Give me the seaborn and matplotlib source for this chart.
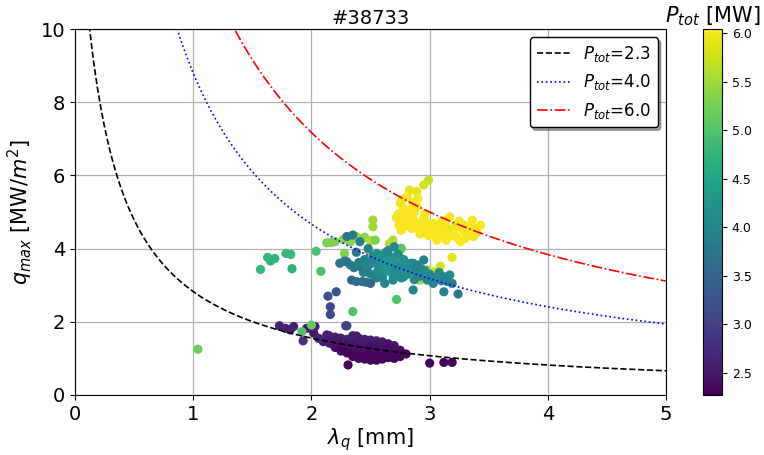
import numpy as np
import pandas as pd
import matplotlib
matplotlib.use("Agg")
import matplotlib.pyplot as plt
import seaborn as sns
from matplotlib.colors import Normalize
from matplotlib.cm import ScalarMappable

# ---------------- data ----------------
# green / light-green scattered points
lam_green = [1.04, 1.57, 1.63, 1.655, 1.69, 1.785, 1.825, 1.836, 2.04, 2.08,
             2.13, 2.17, 2.20, 2.27, 2.33, 2.38, 2.40, 2.45, 2.50, 2.52, 2.52,
             2.28, 2.48, 2.66, 2.68, 2.75, 2.72, 2.35, 2.00, 1.92, 2.88, 2.92,
             2.98, 3.03, 3.09, 3.19, 2.90, 2.66, 2.75, 2.54, 2.69, 2.76]
q_green = [1.25, 3.43, 3.76, 3.66, 3.73, 3.87, 3.84, 3.45, 3.93, 3.38,
           4.16, 4.17, 4.19, 4.25, 4.19, 4.33, 4.28, 4.31, 4.22, 4.78, 4.60,
           3.87, 3.96, 4.14, 4.16, 3.96, 2.61, 2.28, 1.91, 1.73, 3.19, 3.14,
           3.42, 3.37, 3.52, 3.76, 3.30, 3.78, 3.74, 4.23, 4.23, 4.01]
P_green = [5.2, 4.75, 4.75, 4.75, 4.7, 4.8, 4.8, 4.7, 4.95, 4.95,
           5.3, 5.3, 5.3, 5.4, 5.4, 5.5, 5.5, 5.4, 5.6, 5.5, 5.5,
           5.3, 5.6, 5.6, 5.7, 5.2, 5.0, 5.0, 5.1, 5.0, 5.9, 5.4,
           5.6, 5.8, 5.8, 5.9, 5.3, 4.9, 5.0, 5.3, 5.6, 5.1]

# blue points (~3 MW)
lam_blue = [2.21, 2.14, 2.16, 2.16, 2.29, 1.93, 2.34, 2.38, 2.43, 2.46, 2.50]
q_blue = [2.82, 2.70, 2.41, 2.20, 1.89, 1.48, 3.14, 3.10, 3.10, 3.08, 3.05]
P_blue = [3.3, 3.2, 3.1, 3.1, 3.0, 2.8, 3.5, 3.6, 3.6, 3.6, 3.5]

# teal cluster (~4 MW)
lam_teal = [2.24, 2.28, 2.30, 2.33, 2.30, 2.35, 2.41, 2.38, 2.42, 2.47, 2.45,
            2.50, 2.52, 2.55, 2.55, 2.58, 2.58, 2.61, 2.60, 2.63, 2.65, 2.66,
            2.68, 2.69, 2.70, 2.72, 2.73, 2.75, 2.76, 2.78, 2.78, 2.80, 2.83,
            2.84, 2.86, 2.86, 2.88, 2.90, 2.92, 2.95, 2.96, 2.98, 3.00, 3.03,
            3.05, 3.08, 3.12, 3.12, 3.15, 3.19, 3.17, 3.24, 2.62, 2.55, 2.50,
            2.65, 2.70, 2.48, 2.44, 2.53, 2.57, 2.62, 2.67, 2.71, 2.64, 2.59,
            2.52, 2.74, 2.69, 2.60, 2.56, 2.66, 2.81, 2.87, 2.93, 3.01, 3.10,
            2.36, 2.40, 2.46, 2.63, 2.77, 2.82, 2.89, 2.58, 2.68, 2.72]
q_teal = [3.60, 3.66, 3.64, 3.55, 4.33, 4.37, 4.19, 3.90, 3.50, 3.46, 3.70,
          3.58, 3.80, 3.87, 3.65, 3.60, 3.45, 3.33, 3.75, 3.90, 3.55, 3.78,
          3.40, 3.14, 3.65, 3.30, 3.85, 3.51, 3.20, 3.23, 3.70, 3.45, 3.42,
          3.60, 3.60, 2.87, 3.35, 3.55, 3.25, 3.69, 3.40, 3.14, 3.30, 3.05,
          3.20, 3.35, 3.23, 2.82, 3.10, 3.05, 3.28, 2.76, 3.05, 3.20, 3.30,
          3.95, 4.05, 4.00, 3.35, 3.70, 3.50, 3.62, 3.48, 3.55, 3.68, 3.82,
          3.62, 3.40, 3.25, 3.20, 3.38, 3.60, 3.30, 3.15, 3.45, 3.22, 3.12,
          3.48, 3.62, 3.55, 3.38, 3.58, 3.52, 3.48, 3.72, 3.70, 3.48]
P_teal = [3.7, 3.8, 3.7, 3.8, 3.8, 3.8, 3.9, 3.8, 3.7, 3.8, 3.9,
          4.0, 4.0, 4.1, 4.1, 4.1, 4.0, 4.1, 4.2, 4.1, 4.2, 4.1,
          4.2, 4.0, 4.2, 4.1, 4.0, 4.2, 4.1, 4.0, 4.1, 4.2, 4.1,
          3.9, 4.0, 4.0, 4.1, 3.9, 4.0, 3.9, 4.1, 4.0, 4.1, 3.9,
          4.0, 4.1, 4.0, 3.9, 4.0, 3.9, 4.1, 3.8, 3.9, 3.9, 3.9,
          4.0, 4.0, 3.9, 3.8, 4.1, 4.2, 4.2, 4.1, 4.2, 4.3, 4.1,
          4.0, 4.2, 4.1, 4.0, 4.1, 4.2, 4.1, 4.0, 4.1, 4.0, 4.0,
          3.8, 3.9, 4.0, 4.2, 4.1, 4.1, 4.0, 4.2, 4.2, 4.1]

# yellow cluster (~6 MW)
lam_yel = [2.99, 2.95, 2.89, 2.83, 2.81, 2.90, 2.75, 2.78, 2.74, 2.72, 2.74,
           2.78, 2.81, 2.83, 2.86, 2.89, 2.88, 2.92, 2.95, 2.98, 3.00, 3.03,
           3.05, 3.06, 3.09, 3.10, 3.14, 3.14, 3.15, 3.17, 3.20, 3.22, 3.25,
           3.26, 3.26, 3.28, 3.31, 3.33, 3.36, 3.37, 3.38, 3.40, 3.43, 2.96,
           3.00, 2.85, 2.80, 2.92, 3.02, 3.10, 3.18, 2.77, 2.86, 3.07, 3.12,
           2.97, 3.23, 3.30, 2.79, 2.93, 2.84, 2.91, 3.04, 3.13, 3.21, 3.29,
           3.35, 2.76, 2.87, 2.99]
q_yel = [5.87, 5.74, 5.56, 5.60, 5.42, 5.37, 5.24, 5.10, 4.96, 4.85, 4.64,
         4.78, 4.96, 5.05, 4.87, 5.14, 4.70, 4.60, 4.85, 4.46, 4.70, 4.69,
         4.55, 4.23, 4.51, 4.75, 4.78, 4.23, 4.55, 4.87, 4.46, 4.65, 4.75,
         4.69, 4.19, 4.50, 4.42, 4.60, 4.78, 4.33, 4.55, 4.45, 4.64, 4.95,
         4.55, 4.55, 4.62, 4.40, 4.40, 4.38, 4.35, 5.35, 5.25, 4.62, 4.42,
         4.62, 4.30, 4.28, 4.90, 4.72, 4.75, 4.52, 4.48, 4.62, 4.56, 4.64,
         4.40, 4.50, 5.00, 4.35]
P_yel = [5.7, 5.8, 5.9, 5.9, 6.0, 6.0, 6.0, 6.0, 6.0, 5.95, 6.0,
         6.0, 6.0, 6.0, 6.0, 6.0, 6.0, 6.0, 6.0, 6.0, 6.0, 6.0,
         6.0, 6.0, 6.0, 6.0, 6.0, 6.0, 6.0, 6.0, 6.0, 6.0, 6.0,
         6.0, 6.0, 6.0, 6.0, 6.0, 6.0, 6.0, 6.0, 6.0, 6.0, 6.0,
         6.0, 6.0, 6.0, 5.95, 6.0, 6.0, 6.0, 5.95, 5.95, 6.0, 6.0,
         6.0, 6.0, 6.0, 6.0, 6.0, 6.0, 6.0, 6.0, 6.0, 6.0, 6.0,
         6.0, 6.0, 6.0, 6.0]

# purple cluster (~2.3-2.7 MW)
lam_pur = [1.73, 1.78, 1.85, 1.82, 1.96, 2.02, 2.03, 2.10, 2.13, 2.17, 2.24,
           2.30, 2.38, 2.31, 3.00, 3.12, 3.19, 2.06,
           2.15, 2.15, 2.15, 2.20, 2.20, 2.20, 2.20, 2.25, 2.25, 2.25, 2.25,
           2.25, 2.30, 2.30, 2.30, 2.30, 2.30, 2.35, 2.35, 2.35, 2.35, 2.35,
           2.35, 2.35, 2.40, 2.40, 2.40, 2.40, 2.40, 2.40, 2.40, 2.45, 2.45,
           2.45, 2.45, 2.45, 2.45, 2.45, 2.50, 2.50, 2.50, 2.50, 2.50, 2.50,
           2.50, 2.55, 2.55, 2.55, 2.55, 2.55, 2.55, 2.55, 2.60, 2.60, 2.60,
           2.60, 2.60, 2.60, 2.65, 2.65, 2.65, 2.65, 2.65, 2.70, 2.70, 2.70,
           2.70, 2.70, 2.75, 2.75, 2.75, 2.80]
q_pur = [1.89, 1.82, 1.87, 1.78, 1.82, 1.69, 1.87, 1.46, 1.64, 1.41, 1.55,
         1.89, 1.61, 0.82, 0.87, 0.89, 0.89, 1.55,
         1.62, 1.50, 1.42, 1.58, 1.48, 1.38, 1.30, 1.55, 1.45, 1.36, 1.28,
         1.20, 1.52, 1.42, 1.33, 1.25, 1.15, 1.62, 1.50, 1.40, 1.30, 1.22,
         1.12, 1.05, 1.55, 1.46, 1.37, 1.28, 1.18, 1.08, 1.00, 1.52, 1.42,
         1.33, 1.24, 1.15, 1.05, 0.98, 1.50, 1.40, 1.30, 1.22, 1.12, 1.02,
         0.95, 1.48, 1.38, 1.28, 1.18, 1.10, 1.00, 0.95, 1.45, 1.35, 1.25,
         1.15, 1.05, 0.98, 1.40, 1.30, 1.20, 1.10, 1.02, 1.35, 1.25, 1.15,
         1.05, 1.00, 1.22, 1.12, 1.05, 1.12]
P_pur = [2.6, 2.6, 2.6, 2.6, 2.5, 2.5, 2.6, 2.5, 2.6, 2.5, 2.5,
         3.0, 2.5, 2.3, 2.3, 2.3, 2.3, 2.6,
         2.6, 2.5, 2.5, 2.6, 2.5, 2.5, 2.4, 2.6, 2.5, 2.4, 2.4,
         2.3, 2.6, 2.5, 2.4, 2.4, 2.3, 2.6, 2.6, 2.5, 2.4, 2.4,
         2.3, 2.3, 2.6, 2.5, 2.5, 2.4, 2.4, 2.3, 2.3, 2.6, 2.5,
         2.5, 2.4, 2.4, 2.3, 2.3, 2.6, 2.5, 2.4, 2.4, 2.3, 2.3,
         2.3, 2.6, 2.5, 2.4, 2.4, 2.3, 2.3, 2.3, 2.5, 2.5, 2.4,
         2.4, 2.3, 2.3, 2.5, 2.4, 2.4, 2.3, 2.3, 2.5, 2.4, 2.4,
         2.3, 2.3, 2.4, 2.3, 2.3, 2.3]

# model curves q = C / (lambda + d) for three powers
curve_P = [2.3, 4.0, 6.0]
curve_C = [3.45, 9.95, 16.5]
curve_d = [0.22, 0.13, 0.30]
curve_colors = ["black", "blue", "red"]
curve_styles = ["--", ":", "-."]

P_min, P_max = 2.27, 6.04
# -----------------------------------------------------------

df = pd.DataFrame({
    "lam": lam_pur + lam_blue + lam_green + lam_teal + lam_yel,
    "q": q_pur + q_blue + q_green + q_teal + q_yel,
    "P": P_pur + P_blue + P_green + P_teal + P_yel,
})

fig = plt.figure(figsize=(7.64, 4.55), dpi=100)
ax = fig.add_axes([0.098, 0.132, 0.774, 0.804])
cax = fig.add_axes([0.920, 0.132, 0.025, 0.804])

norm = Normalize(vmin=P_min, vmax=P_max)
sns.scatterplot(data=df, x="lam", y="q", hue="P", palette="viridis",
                hue_norm=norm, s=44, linewidth=0, legend=False, ax=ax,
                zorder=3)

lam_grid = np.linspace(0.02, 5.0, 600)
for P, C, d, col, ls in zip(curve_P, curve_C, curve_d, curve_colors, curve_styles):
    sns.lineplot(x=lam_grid, y=C / (lam_grid + d), ax=ax, color=col,
                 linestyle=ls, linewidth=1.2, label=f"$P_{{tot}}$={P}",
                 zorder=4, sort=False)

ax.set_xlim(0, 5)
ax.set_ylim(0, 10)
ax.set_xticks([0, 1, 2, 3, 4, 5])
ax.set_yticks([0, 2, 4, 6, 8, 10])
ax.tick_params(labelsize=14)
ax.grid(True, color="#b0b0b0", linewidth=0.9)
ax.set_axisbelow(True)
ax.set_xlabel(r"$\lambda_q$ [mm]", fontsize=15, labelpad=2)
ax.set_ylabel(r"$q_{max}$ [MW/$m^2$]", fontsize=15)
ax.set_title("#38733", fontsize=14, pad=4)

leg = ax.legend(loc="upper right", fontsize=12, shadow=True, framealpha=1,
                edgecolor="black", fancybox=True)

sm = ScalarMappable(norm=norm, cmap="viridis")
cb = fig.colorbar(sm, cax=cax)
cb.set_ticks([2.5, 3.0, 3.5, 4.0, 4.5, 5.0, 5.5, 6.0])
cax.tick_params(labelsize=9)
cax.set_title(r"$P_{tot}$ [MW]", fontsize=15, pad=5)

fig.savefig("out.png", dpi=100)
